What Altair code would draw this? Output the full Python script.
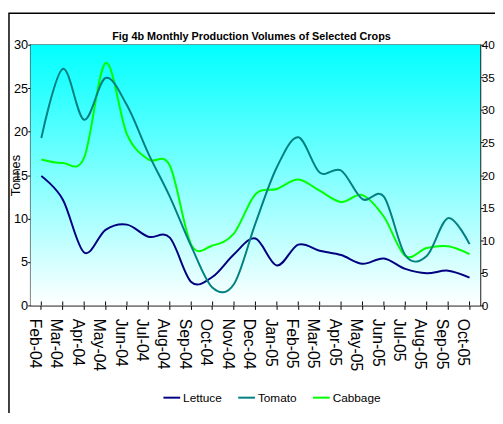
import altair as alt
import pandas as pd

months = ["Feb-04", "Mar-04", "Apr-04", "May-04", "Jun-04", "Jul-04", "Aug-04",
          "Sep-04", "Oct-04", "Nov-04", "Dec-04", "Jan-05", "Feb-05", "Mar-05",
          "Apr-05", "May-05", "Jun-05", "Jul-05", "Aug-05", "Sep-05", "Oct-05"]

# left axis (0-30)
lettuce = [14.9, 12.2, 6.1, 8.7, 9.3, 7.9, 7.8, 2.7, 3.3, 5.9, 7.7,
           4.6, 7.0, 6.3, 5.8, 4.8, 5.4, 4.2, 3.7, 4.0, 3.2]
cabbage = [16.8, 16.4, 17.0, 27.9, 19.7, 16.8, 16.1, 7.0, 6.9, 8.3, 12.8,
           13.4, 14.5, 13.2, 11.9, 12.7, 10.2, 5.7, 6.6, 6.8, 5.9]
# right axis (0-40)
tomato = [25.7, 36.3, 28.5, 34.9, 30.7, 23.3, 16.7, 9.1, 2.7, 3.3, 12.6,
          21.2, 25.8, 20.4, 20.7, 16.3, 16.7, 7.7, 7.6, 13.4, 9.4]

series_names = ["Lettuce", "Tomato", "Cabbage"]
series_colors = ["#000080", "#008080", "#00FF00"]
title_text = "Fig 4b Monthly Production Volumes of Selected Crops"

left_df = pd.DataFrame(
    [{"month": m, "idx": i, "series": "Lettuce", "value": v} for i, (m, v) in enumerate(zip(months, lettuce))]
    + [{"month": m, "idx": i, "series": "Cabbage", "value": v} for i, (m, v) in enumerate(zip(months, cabbage))]
)
right_df = pd.DataFrame(
    [{"month": m, "idx": i, "series": "Tomato", "value": v} for i, (m, v) in enumerate(zip(months, tomato))]
)
month_df = pd.DataFrame({"month": months})
one = pd.DataFrame({"a": [0]})
title_df = pd.DataFrame({"t": [title_text]})

W, H = 457, 265
FONT = "Liberation Sans"

x_enc = alt.X("month:O", sort=months, scale=alt.Scale(padding=0),
              axis=alt.Axis(title=None, labelAngle=90, labelAlign="left", labelBaseline="middle",
                            labelFontSize=16, labelFont=FONT, labelColor="black",
                            labelOffset=-6.5, labelPadding=9, tickSize=4, tickColor="black",
                            domainColor="black", labelOverlap=False))

color_enc = alt.Color("series:N",
                      scale=alt.Scale(domain=series_names, range=series_colors),
                      legend=alt.Legend(title=None, orient="none", direction="horizontal",
                                        legendX=134, legendY=349, symbolType="stroke",
                                        symbolSize=289, symbolStrokeWidth=2,
                                        labelFontSize=12, labelFont=FONT, labelColor="black",
                                        columnPadding=12, labelOffset=2))

grad = alt.LinearGradient(gradient="linear",
                          stops=[alt.GradientStop(color="#00FFFF", offset=0),
                                 alt.GradientStop(color="#FFFFFF", offset=1)],
                          x1=0, x2=0, y1=0, y2=1)

bg = alt.Chart(one).mark_rect(fill=grad).encode(
    x=alt.value(0), x2=alt.value(W), y=alt.value(0), y2=alt.value(H))

left_lines = alt.Chart(left_df).mark_line(interpolate="cardinal", strokeWidth=2).encode(
    x=x_enc,
    y=alt.Y("value:Q", scale=alt.Scale(domain=[0, 30]),
            axis=alt.Axis(orient="left", values=[0, 5, 10, 15, 20, 25, 30], grid=False,
                          title="Tonnes", titleFont=FONT, titleFontSize=13, titleFontWeight="normal",
                          titleColor="black", titleAngle=-90, titleX=-15.5, titleY=H / 2,
                          titleAlign="center", titleBaseline="middle",
                          labelFontSize=13, labelFont=FONT, labelColor="black",
                          labelPadding=0, tickSize=3, tickColor="black", domainColor="black")),
    color=color_enc,
    order="idx:Q",
)

right_line = alt.Chart(right_df).mark_line(interpolate="cardinal", strokeWidth=2).encode(
    x=x_enc,
    y=alt.Y("value:Q", scale=alt.Scale(domain=[0, 40]),
            axis=alt.Axis(orient="right", values=[0, 5, 10, 15, 20, 25, 30, 35, 40], grid=False,
                          title=None, labelFontSize=12, labelFont=FONT, labelColor="black",
                          labelPadding=-2, tickSize=3, tickColor="black", domainColor="black")),
    color=color_enc,
    order="idx:Q",
)

inner_ticks = alt.Chart(month_df).mark_rule(color="black", strokeWidth=1).encode(
    x=alt.X("month:O", sort=months), y=alt.value(H - 4), y2=alt.value(H))

title_mark = alt.Chart(title_df).mark_text(
    font=FONT, fontSize=11, fontWeight="bold", color="black", align="center", baseline="bottom"
).encode(x=alt.value(W / 2 - 4), y=alt.value(-3), text="t:N")

border = alt.Chart(one).mark_rect(fill="transparent", stroke="black", strokeWidth=1.5).encode(
    x=alt.value(-22), x2=alt.value(520), y=alt.value(-32), y2=alt.value(420))

chart = alt.layer(bg, inner_ticks, left_lines, right_line, title_mark, border).resolve_scale(
    y="independent"
).properties(
    width=W, height=H,
    autosize=alt.AutoSizeParams(type="none"),
    padding={"left": 23, "top": 34, "right": 15, "bottom": 106},
).configure_view(stroke="#808080", strokeWidth=1.5)

chart.save("out.html", embed_options={"renderer": "svg", "actions": False})
